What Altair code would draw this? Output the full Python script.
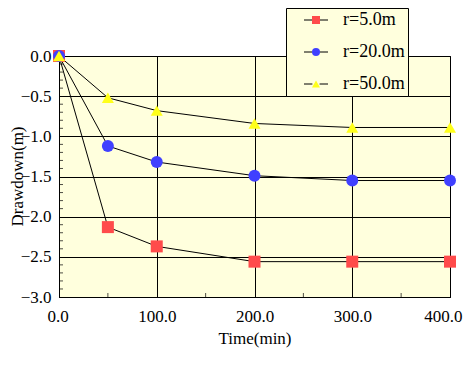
import altair as alt
import pandas as pd

time_min = [0, 50, 100, 200, 300, 400]
r5 = [0.0, -2.13, -2.37, -2.56, -2.56, -2.56]
r20 = [0.0, -1.12, -1.32, -1.49, -1.55, -1.55]
r50 = [0.0, -0.52, -0.68, -0.84, -0.89, -0.89]
series = ["r=5.0m", "r=20.0m", "r=50.0m"]
colors = ["#FF4B4B", "#4040FF", "#FFFF1A"]
shapes = ["square", "circle", "triangle-up"]
x_ticks = [0, 100, 200, 300, 400]
y_ticks = [-3.0, -2.5, -2.0, -1.5, -1.0, -0.5, 0.0]
x_minor = [50, 150, 250, 350]
y_minor = [-2.9, -2.8, -2.7, -2.6, -2.4, -2.3, -2.2, -2.1, -1.9, -1.8, -1.7, -1.6,
           -1.4, -1.3, -1.2, -1.1, -0.9, -0.8, -0.7, -0.6, -0.4, -0.3, -0.2, -0.1]

rows = []
for name, vals in zip(series, [r5, r20, r50]):
    for t, v in zip(time_min, vals):
        rows.append({"time": t, "drawdown": v, "series": name, "lseries": name})
df = pd.DataFrame(rows)

FONT = "Liberation Serif"
BG = "#FFFFDD"

xscale = alt.Scale(domain=[0, 400], nice=False, zero=False)
yscale = alt.Scale(domain=[-3, 0], nice=False, zero=False)

xaxis = alt.Axis(values=x_ticks, format=".1f", grid=True, gridColor="black", gridOpacity=1,
                 ticks=False, domainColor="black", labelFont=FONT, labelFontSize=17,
                 labelColor="black", labelPadding=11, labelFlush=True, labelFlushOffset=12,
                 title="Time(min)",
                 titleFont=FONT, titleFontSize=17, titleFontWeight="normal", titleColor="black",
                 titlePadding=6)
yaxis = alt.Axis(values=y_ticks, format=".1f", grid=True, gridColor="black", gridOpacity=1,
                 ticks=False, domainColor="black", labelFont=FONT, labelFontSize=17,
                 labelColor="black", labelPadding=8, title="Drawdown(m)",
                 titleFont=FONT, titleFontSize=17, titleFontWeight="normal", titleColor="black",
                 titleX=-42, titleY=120, titleBaseline="middle")

common_legend = dict(orient="none", legendX=227, legendY=-48, padding=3, rowPadding=14,
                     symbolSize=64, symbolOffset=18, labelOffset=18, labelFont=FONT,
                     labelFontSize=18, labelColor="black", title=None)

lines = alt.Chart(df).mark_line(strokeWidth=1).encode(
    x=alt.X("time:Q", scale=xscale, axis=xaxis),
    y=alt.Y("drawdown:Q", scale=yscale, axis=yaxis),
    stroke=alt.Stroke("lseries:N", scale=alt.Scale(domain=series, range=["black", "black", "black"]),
                      legend=alt.Legend(symbolType="M-3,0H-0.9M0.9,0H3", symbolStrokeWidth=1,
                                        fillColor=BG, strokeColor="black", labelOpacity=0,
                                        zindex=1, **common_legend)),
    detail="series:N",
    order="time:Q",
)

points = alt.Chart(df).mark_point(filled=True, size=144, opacity=1).encode(
    x="time:Q",
    y="drawdown:Q",
    color=alt.Color("series:N", scale=alt.Scale(domain=series, range=colors),
                    legend=alt.Legend(symbolStrokeWidth=0, symbolOpacity=1, zindex=2,
                                      **common_legend)),
    shape=alt.Shape("series:N", scale=alt.Scale(domain=series, range=shapes)),
)

ymt = alt.Chart(pd.DataFrame({"v": y_minor})).mark_tick(color="black", thickness=1, size=4).encode(
    y=alt.Y("v:Q", scale=yscale), x=alt.value(2))
xmt = alt.Chart(pd.DataFrame({"v": x_minor})).mark_tick(color="black", thickness=1, size=4).encode(
    x=alt.X("v:Q", scale=xscale), y=alt.value(239))

chart = alt.layer(lines, points, ymt, xmt).resolve_scale(
    stroke="independent"
).properties(
    width=391, height=241,
    autosize=alt.AutoSizeParams(type="none"),
    padding={"left": 51, "top": 48, "right": 13, "bottom": 70},
    background="white",
).configure_view(fill=BG, stroke="black", strokeWidth=1)

chart.save("out.html", embed_options={"renderer": "svg", "actions": False})
